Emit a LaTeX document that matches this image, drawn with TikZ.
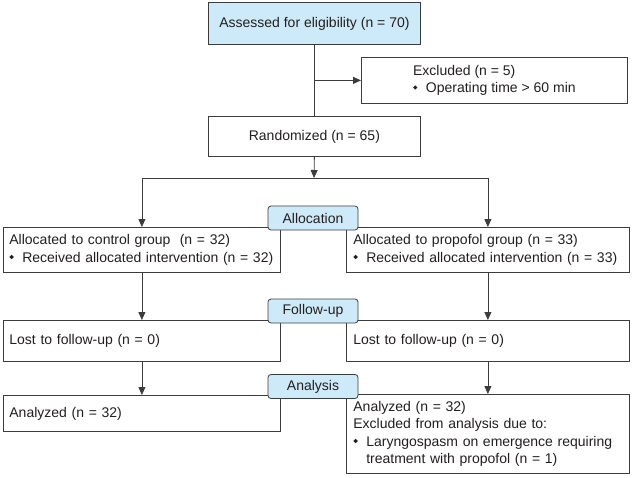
\documentclass[tikz,border=0pt]{standalone}
\usepackage{fontspec}
\setmainfont{Liberation Sans}
\usepackage{tikz}
\usetikzlibrary{arrows.meta}
\usepackage{xcolor}

\definecolor{lblue}{RGB}{206,234,248}
\definecolor{lineg}{RGB}{60,60,60}
\definecolor{txt}{RGB}{35,31,32}

% small diamond bullet
\newcommand{\dmd}{\raisebox{0.22em}{\rotatebox{45}{\rule{3.1pt}{3.1pt}}}\hspace{8.5pt}}

\begin{document}
\begin{tikzpicture}[x=1pt, y=-1pt,
		every node/.style={font=\fontsize{14}{17.5}\selectfont, text=txt},
		box/.style={draw=lineg, line width=0.8pt, fill=white, anchor=north west,
			inner xsep=7pt, align=left},
		lbox/.style={box, inner xsep=6pt, text width=265pt},
		rbox/.style={box, text width=269pt},
		stage/.style={draw=lineg, line width=0.8pt, fill=lblue, rounded corners=3pt,
			minimum width=90pt, minimum height=24pt, inner sep=0pt},
		arr/.style={-{Triangle[length=8pt,width=7pt]}, lineg, line width=0.8pt},
		link/.style={lineg, line width=0.8pt}]
		\useasboundingbox (0,0) rectangle (632,477);

		% Enrollment
		\node[box, fill=lblue, minimum width=212pt, minimum height=42pt, align=center]
			(assess) at (208,2) {Assessed for eligibility (n = 70)};
		\node[box, minimum width=266pt, minimum height=46pt]
			(excl) at (361,57) {Excluded (n = 5)\\\dmd Operating time > 60 min};
		\node[box, minimum width=212pt, minimum height=40pt, align=center]
			(rand) at (208,116) {Randomized (n = 65)};

		% Two arms
		\node[lbox, minimum height=45pt]
			(allocL) at (3,227) {Allocated to control group\ \ (n = 32)\\\dmd Received allocated intervention (n = 32)};
		\node[rbox, minimum height=45pt]
			(allocR) at (346,227) {Allocated to propofol group (n = 33)\\\dmd Received allocated intervention (n = 33)};
		\node[lbox, minimum height=41pt]
			(lostL) at (3,320) {Lost to follow-up (n = 0)};
		\node[rbox, minimum height=41pt]
			(lostR) at (346,320) {Lost to follow-up (n = 0)};
		\node[lbox, minimum height=36pt]
			(anaL) at (3,395) {Analyzed (n = 32)};
		\node[rbox, minimum height=79pt]
			(anaR) at (346,394) {Analyzed (n = 32)\\Excluded from analysis due to:\\\dmd Laryngospasm on emergence requiring\\\phantom{\dmd}treatment with propofol (n = 1)};

		% Connectors
		\coordinate (split) at (314,178);
		\draw[link] (assess.south) -- (rand.north);
		\draw[arr] (assess.south |- excl.west) -- (excl.west);
		\draw[arr] (rand.south) -- (split);
		\draw[arr] (split) -| (allocL.north);
		\draw[arr] (split) -| (allocR.north);
		\foreach \s in {L,R} {
			\draw[arr] (alloc\s.south) -- (lost\s.north);
			\draw[arr] (lost\s.south) -- (ana\s.north);
		}

		% Stage labels
		\foreach \name/\txt/\y in {labAlloc/Allocation/218, labFollow/Follow-up/311, labAna/Analysis/386.5}
			\node[stage] (\name) at (313,\y) {\txt};
	\end{tikzpicture}
\end{document}
